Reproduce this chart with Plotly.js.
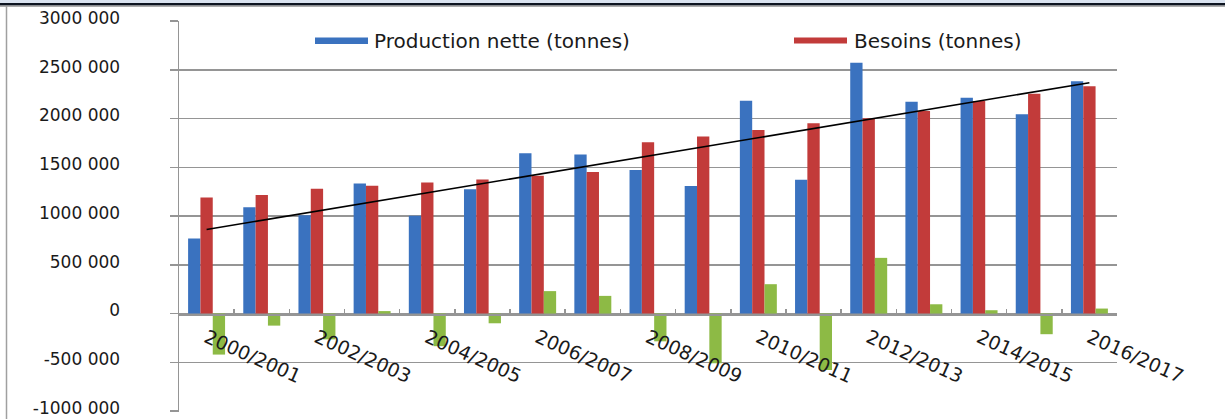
<!DOCTYPE html>
<html>
<head>
<meta charset="utf-8">
<script src="https://cdn.plot.ly/plotly-3.0.1.min.js"></script>
<style>html,body{margin:0;padding:0;background:#fff;overflow:hidden;}#chart{width:1225px;height:419px;}</style>
</head>
<body>
<div id="chart"></div>
<script>
const categories = ['2000/2001','2001/2002','2002/2003','2003/2004','2004/2005','2005/2006','2006/2007','2007/2008','2008/2009','2009/2010','2010/2011','2011/2012','2012/2013','2013/2014','2014/2015','2015/2016','2016/2017'];
const xTickLabels = ['2000/2001','','2002/2003','','2004/2005','','2006/2007','','2008/2009','','2010/2011','','2012/2013','','2014/2015','','2016/2017'];
const production = [770000,1091000,1009000,1335000,1002000,1276000,1643000,1632000,1471000,1307000,2183000,1372000,2573000,2172000,2214000,2043000,2382000];
const besoins = [1191000,1215000,1279000,1310000,1345000,1376000,1413000,1451000,1756000,1817000,1882000,1951000,2002000,2077000,2180000,2255000,2331000];
const ecart = [-421000,-124000,-265000,25000,-335000,-100000,230000,181000,-285000,-510000,301000,-579000,571000,95000,34000,-212000,51000];
const trendCategories = ['2000/2001','2016/2017'];
const trendValues = [862000,2368000];
const yTickValues = [-1000000,-500000,0,500000,1000000,1500000,2000000,2500000,3000000];
const yTickLabels = ['-1000 000','-500 000','0','500 000','1000 000','1500 000','2000 000','2500 000','3000 000'];
const seriesNames = ['Production nette (tonnes)','Besoins (tonnes)','Écart (tonnes)','Linéaire (Production nette (tonnes))'];

const gridColor = '#959595';
const FONT = 'DejaVu Sans, Verdana, sans-serif';

const traces = [
  {type:'bar', x:categories, y:production, name:seriesNames[0], marker:{color:'#3a72bf'}, showlegend:false},
  {type:'bar', x:categories, y:besoins, name:seriesNames[1], marker:{color:'#c23b3a'}, showlegend:false},
  {type:'bar', x:categories, y:ecart, name:seriesNames[2], marker:{color:'#8dba45'}, showlegend:false},
  {type:'scatter', mode:'lines', x:trendCategories, y:trendValues, name:seriesNames[3], line:{color:'#000', width:1.6}, showlegend:false}
];

// plot area in px: x 179..1117, y 21..412
const px = x => (x-179)/938;
const py = y => (412-y)/391;

const layout = {
  width:1225, height:419,
  margin:{l:179, r:108, t:21, b:7, pad:0},
  paper_bgcolor:'#fff', plot_bgcolor:'#fff',
  font:{family:FONT, size:18, color:'#1a1a1a'},
  barmode:'group', bargap:0.33, bargroupgap:0,
  showlegend:false,
  xaxis:{
    type:'category', anchor:'free', position:0.2506,
    tickvals:categories, ticktext:xTickLabels,
    tickangle:24, tickson:'boundaries', ticks:'inside', ticklen:5, tickcolor:gridColor, tickwidth:1.5,
    showline:true, linecolor:gridColor, linewidth:1.5,
    showgrid:false, zeroline:false,
    tickfont:{family:FONT, size:19, color:'#1a1a1a'},
    ticklabelstandoff:4, ticklabeloverflow:'allow',
    range:[-0.5,16.5], fixedrange:true
  },
  yaxis:{
    range:[-1010000,3000500],
    tickvals:yTickValues, ticktext:yTickLabels,
    ticks:'outside', ticklen:8, tickcolor:gridColor, tickwidth:1.5,
    showline:true, linecolor:gridColor, linewidth:1.5,
    showgrid:true, gridcolor:gridColor, gridwidth:1.5,
    zeroline:false,
    tickfont:{family:FONT, size:17, color:'#1a1a1a'},
    ticklabelstandoff:46, ticklabelshift:-3, ticklabeloverflow:'allow',
    fixedrange:true
  },
  shapes:[
    // top frame band
    {type:'rect', xref:'paper', yref:'paper', x0:px(0), x1:px(1225), y0:py(3), y1:py(0), fillcolor:'#dae3f0', line:{width:0}, layer:'above'},
    {type:'rect', xref:'paper', yref:'paper', x0:px(0), x1:px(1225), y0:py(5.5), y1:py(3), fillcolor:'#0d1420', line:{width:0}, layer:'above'},
    {type:'line', xref:'paper', yref:'paper', x0:px(0), x1:px(1225), y0:py(6.3), y1:py(6.3), line:{color:'#9a9a9a', width:1}, layer:'above'},
    // left frame line
    {type:'line', xref:'paper', yref:'paper', x0:px(6.5), x1:px(6.5), y0:py(6), y1:py(419), line:{color:'#a0a0a0', width:1.5}, layer:'above'},
    // legend swatches
    {type:'rect', xref:'paper', yref:'paper', x0:px(315), x1:px(368), y0:py(44), y1:py(37.5), fillcolor:'#3a72bf', line:{width:0}},
    {type:'rect', xref:'paper', yref:'paper', x0:px(794), x1:px(847), y0:py(43.5), y1:py(37.5), fillcolor:'#c23b3a', line:{width:0}}
  ],
  annotations:[
    {xref:'paper', yref:'paper', x:px(372), y:py(41), xanchor:'left', yanchor:'middle', showarrow:false, text:seriesNames[0], font:{family:FONT, size:20, color:'#1a1a1a'}, bgcolor:'#fff'},
    {xref:'paper', yref:'paper', x:px(852), y:py(40.5), xanchor:'left', yanchor:'middle', showarrow:false, text:seriesNames[1], font:{family:FONT, size:20, color:'#1a1a1a'}, bgcolor:'#fff'}
  ]
};

Plotly.newPlot('chart', traces, layout, {displayModeBar:false, staticPlot:true});
</script>
</body>
</html>
